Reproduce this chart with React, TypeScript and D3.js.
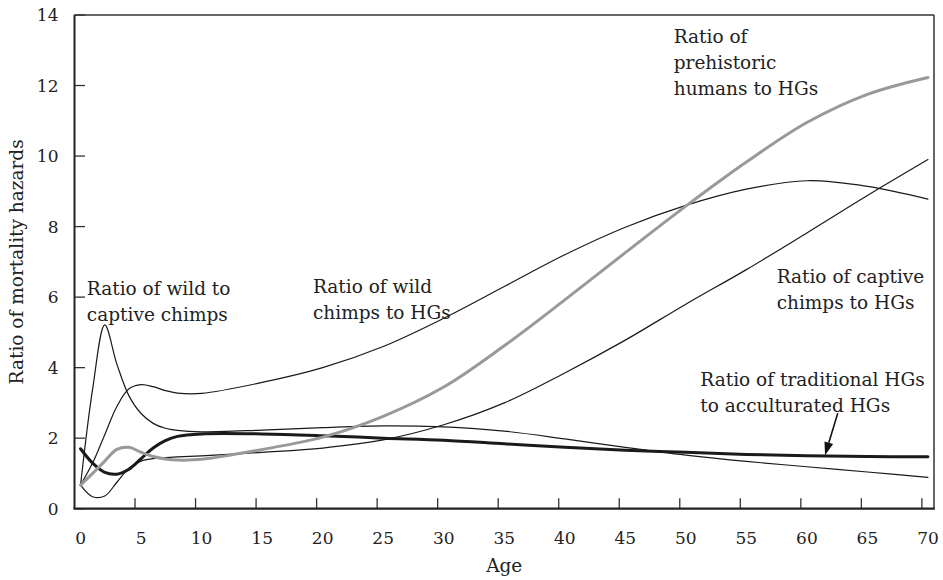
import React from "react";
import * as d3 from "d3";

// Ages at which each ratio curve is sampled
const ages = [0, 1, 2, 3, 4, 5, 6, 7, 8, 10, 15, 20, 25, 30, 35, 40, 45, 50, 55, 60, 65, 70];

// Ratio of wild to captive chimps
const wildToCaptive = [0.67, 3.4, 5.21, 4.1, 3.2, 2.7, 2.42, 2.28, 2.22, 2.18, 2.23, 2.3, 2.35, 2.32, 2.2, 1.98, 1.74, 1.52, 1.34, 1.19, 1.04, 0.89];
// Ratio of wild chimps to hunter-gatherers
const wildChimpsToHG = [0.67, 1.3, 2.1, 2.9, 3.4, 3.52, 3.46, 3.35, 3.28, 3.27, 3.58, 4.0, 4.6, 5.4, 6.3, 7.2, 7.98, 8.6, 9.06, 9.3, 9.14, 8.78];
// Ratio of captive chimps to hunter-gatherers
const captiveChimpsToHG = [0.67, 0.34, 0.36, 0.75, 1.15, 1.35, 1.42, 1.45, 1.47, 1.5, 1.6, 1.72, 1.95, 2.38, 3.0, 3.85, 4.78, 5.8, 6.78, 7.82, 8.88, 9.9];
// Ratio of traditional to acculturated hunter-gatherers
const traditionalToAcculturated = [1.7, 1.29, 1.03, 0.98, 1.12, 1.42, 1.72, 1.93, 2.05, 2.12, 2.12, 2.07, 2.0, 1.94, 1.84, 1.74, 1.66, 1.6, 1.54, 1.5, 1.48, 1.47];
// Ratio of prehistoric humans to hunter-gatherers
const prehistoricToHG = [0.67, 1.0, 1.35, 1.68, 1.74, 1.6, 1.48, 1.41, 1.38, 1.4, 1.68, 2.03, 2.62, 3.45, 4.62, 5.92, 7.26, 8.58, 9.83, 10.95, 11.75, 12.23];

const xTickLabels = [0, 5, 10, 15, 20, 25, 30, 35, 40, 45, 50, 55, 60, 65, 70];
const yTickLabels = [0, 2, 4, 6, 8, 10, 12, 14];

const W = 943;
const H = 580;
const FONT = "'DejaVu Serif', serif";
const INK = "#222";

export default function App() {
  // Category-style age axis: each year occupies one band, labels sit on band centres
  const x = d3.scaleLinear().domain([-0.5, 70.5]).range([74.5, 934]);
  const y = d3.scaleLinear().domain([0, 14]).range([508.7, 15]);

  const line = (vals: number[]) =>
    d3
      .line<number>()
      .x((_, i) => x(ages[i]))
      .y((v) => y(v))
      .curve(d3.curveCatmullRom.alpha(0.5))(vals) as string;

  const left = x(-0.5);
  const right = x(70.5);
  const top = y(14);
  const bottom = y(0);
  const tickLen = 10.5;

  // Arrow pointing at the traditional/acculturated curve
  const arrowAge = 61.5;
  const arrowVal = 1.49;
  const tipX = x(arrowAge);
  const tipY = y(arrowVal) - 1;
  const startX = x(62.55);
  const startY = y(2.71);
  const ang = Math.atan2(tipY - startY, tipX - startX);
  const headLen = 13;
  const headHalf = 4.5;
  const bx = tipX - headLen * Math.cos(ang);
  const by = tipY - headLen * Math.sin(ang);
  const px = -Math.sin(ang) * headHalf;
  const py = Math.cos(ang) * headHalf;

  const label = (lines: string[], age: number, val: number) => (
    <text x={x(age)} y={y(val)} fontFamily={FONT} fontSize={18.5} fill={INK}>
      {lines.map((t, i) => (
        <tspan key={i} x={x(age)} dy={i === 0 ? 0 : 26}>
          {t}
        </tspan>
      ))}
    </text>
  );

  return (
    <svg width={W} height={H} style={{ position: "absolute", left: 0, top: 0 }}>
      <rect width={W} height={H} fill="#fff" />

      {/* plot frame */}
      <line x1={left} x2={right} y1={top} y2={top} stroke="#333" strokeWidth={1.5} />
      <line x1={right} x2={right} y1={top} y2={bottom} stroke="#333" strokeWidth={1.5} />

      {/* y ticks (inward) and labels */}
      {yTickLabels.map((v) => (
        <g key={v}>
          <line x1={left} x2={left + tickLen} y1={y(v)} y2={y(v)} stroke="#333" strokeWidth={1.3} />
          <text x={58.5} y={y(v) + 6.2} textAnchor="end" fontFamily={FONT} fontSize={17} fill={INK}>
            {v}
          </text>
        </g>
      ))}

      {/* x ticks between age bands and labels */}
      {xTickLabels.slice(1).map((a) => (
        <line key={a} x1={x(a - 0.5)} x2={x(a - 0.5)} y1={bottom} y2={bottom - tickLen} stroke="#333" strokeWidth={1.3} />
      ))}
      {xTickLabels.map((a) => (
        <text key={a} x={x(a)} y={543.5} textAnchor="middle" fontFamily={FONT} fontSize={17} fill={INK}>
          {a}
        </text>
      ))}

      {/* axis titles */}
      <text x={(left + right) / 2} y={572} textAnchor="middle" fontFamily={FONT} fontSize={18.5} fill={INK}>
        Age
      </text>
      <text
        transform={`translate(23,${(top + bottom) / 2}) rotate(-90)`}
        textAnchor="middle"
        fontFamily={FONT}
        fontSize={18.5}
        fill={INK}
      >
        Ratio of mortality hazards
      </text>

      {/* curves */}
      <g fill="none" strokeLinejoin="round" strokeLinecap="round">
        <path d={line(wildToCaptive)} stroke="#1a1a1a" strokeWidth={1.2} />
        <path d={line(wildChimpsToHG)} stroke="#1a1a1a" strokeWidth={1.2} />
        <path d={line(captiveChimpsToHG)} stroke="#1a1a1a" strokeWidth={1.2} />
        <path d={line(traditionalToAcculturated)} stroke="#1a1a1a" strokeWidth={3} />
        <path d={line(prehistoricToHG)} stroke="#999" strokeWidth={3} />
      </g>

      {/* axes */}
      <line x1={left} x2={left} y1={top} y2={bottom} stroke="#222" strokeWidth={2} />
      <line x1={left - 1} x2={right + 0.75} y1={bottom} y2={bottom} stroke="#222" strokeWidth={2.2} />

      {/* annotations */}
      {label(["Ratio of wild to", "captive chimps"], 0.52, 6.06)}
      {label(["Ratio of wild", "chimps to HGs"], 19.2, 6.13)}
      {label(["Ratio of", "prehistoric", "humans to HGs"], 49.0, 13.2)}
      {label(["Ratio of captive", "chimps to HGs"], 57.5, 6.4)}
      {label(["Ratio of traditional HGs", "to acculturated HGs"], 51.2, 3.47)}

      {/* arrow */}
      <line x1={startX} y1={startY} x2={bx} y2={by} stroke="#111" strokeWidth={1.6} />
      <path d={`M${tipX},${tipY}L${bx + px},${by + py}L${bx - px},${by - py}Z`} fill="#111" />
    </svg>
  );
}
